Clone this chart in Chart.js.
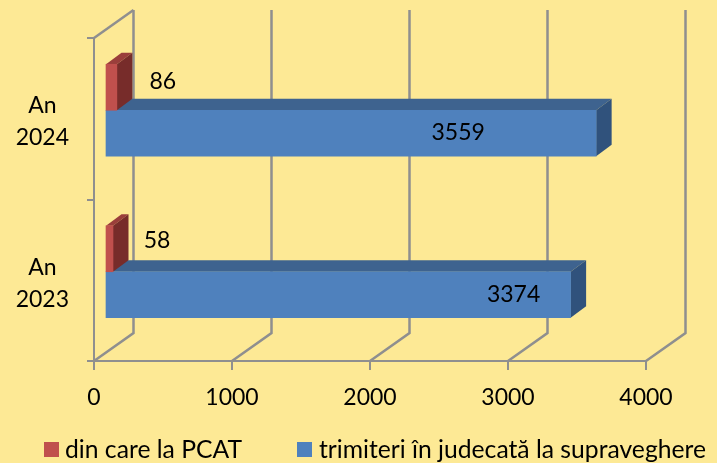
<!DOCTYPE html>
<html>
<head>
<meta charset="utf-8">
<script src="https://cdn.jsdelivr.net/npm/chart.js@4"></script>
<style>
html, body { margin: 0; padding: 0; background: #fde995; }
canvas { display: block; }
</style>
</head>
<body>
<canvas id="c" width="717" height="463"></canvas>
<script>
const years = [["An", "2024"], ["An", "2023"]];
const pcat = [86, 58];
const trimiteri = [3559, 3374];
const seriesNames = ["din care la PCAT", "trimiteri în judecată la supraveghere"];

const C = {bg: "#fde995", grid: "#8f8f8f", text: "#000",
  red: "#c0504d", redSide: "#772c2a", redTop: "#9a3e3b",
  blue: "#4f81bd", blueSide: "#30527c", blueTop: "#3e638f"};
const FONT = "Lato";

// chart box depth, and how far back in the box the bars stand
const WALL = {dx: 39.5, dy: -28}, BAR = {dx: 15.5, dy: -11.5}, SHIFT = {dx: 11, dy: -8.5};
// hand placed data labels in the original, offset from the bar end
const labelOff = [[[46, -6], [-138, -1]], [[44, -8], [-57, 0]]];

const box3d = {
  id: "box3d",
  beforeDatasetsDraw(chart) {
    const {ctx, scales: {x, y}} = chart;
    const top = y.top, bot = y.bottom;
    ctx.save();
    ctx.strokeStyle = C.grid; ctx.lineWidth = 2.5;
    // back wall and floor
    x.ticks.forEach(t => {
      const px = x.getPixelForValue(t.value);
      ctx.beginPath();
      ctx.moveTo(px, bot);
      ctx.lineTo(px + WALL.dx, bot + WALL.dy);
      ctx.lineTo(px + WALL.dx, top + WALL.dy);
      ctx.stroke();
    });
    const x0 = x.getPixelForValue(0);
    ctx.beginPath();
    ctx.moveTo(x0, top);
    ctx.lineTo(x0 + WALL.dx, top + WALL.dy);
    ctx.stroke();
    // top and side faces, blue first because red stands in front of it
    [[1, C.blueTop, C.blueSide], [0, C.redTop, C.redSide]].forEach(([d, cTop, cSide]) => {
      chart.getDatasetMeta(d).data.forEach(b => {
        const l = b.base + SHIFT.dx, r = b.x + SHIFT.dx;
        const t = b.y - b.height / 2 + SHIFT.dy, bt = b.y + b.height / 2 + SHIFT.dy;
        face(ctx, cTop, [[l, t], [r, t], [r + BAR.dx, t + BAR.dy], [l + BAR.dx, t + BAR.dy]]);
        face(ctx, cSide, [[r, t], [r + BAR.dx, t + BAR.dy], [r + BAR.dx, bt + BAR.dy], [r, bt]]);
      });
    });
    ctx.restore();
    ctx.save();
    ctx.translate(SHIFT.dx, SHIFT.dy);
  },
  afterDatasetsDraw(chart) {
    const {ctx} = chart;
    ctx.restore();
    ctx.save();
    ctx.fillStyle = C.text; ctx.font = "23px " + FONT;
    ctx.textAlign = "center"; ctx.textBaseline = "middle";
    [0, 1].forEach(d => {
      chart.getDatasetMeta(d).data.forEach((b, i) => {
        const v = chart.data.datasets[d].data[i], off = labelOff[i][d];
        ctx.fillText(v, b.x + SHIFT.dx + off[0], b.y + SHIFT.dy + off[1]);
      });
    });
    // legend
    ctx.textAlign = "left"; ctx.font = "24.7px " + FONT;
    [[44, 65], [297, 319]].forEach(([sx, tx], d) => {
      ctx.fillStyle = chart.data.datasets[d].backgroundColor;
      ctx.fillRect(sx, 442, 15, 15);
      ctx.fillStyle = C.text;
      ctx.fillText(chart.data.datasets[d].label, tx, 450);
    });
    ctx.restore();
  }
};

function face(ctx, color, pts) {
  ctx.fillStyle = color;
  ctx.beginPath();
  pts.forEach((p, i) => i ? ctx.lineTo(p[0], p[1]) : ctx.moveTo(p[0], p[1]));
  ctx.closePath();
  ctx.fill();
}

Chart.defaults.font.family = FONT;
Chart.defaults.color = C.text;

new Chart(document.getElementById("c"), {
  type: "bar",
  data: {labels: years, datasets: [
    {label: seriesNames[0], data: pcat, backgroundColor: C.red, barThickness: 46, clip: false},
    {label: seriesNames[1], data: trimiteri, backgroundColor: C.blue, barThickness: 46, clip: false}
  ]},
  plugins: [box3d],
  options: {
    indexAxis: "y", responsive: false, animation: false,
    layout: {padding: {top: 38, right: 71, left: 0, bottom: 0}},
    plugins: {legend: {display: false}, tooltip: {enabled: false}},
    scales: {
      x: {min: 0, max: 4000,
        ticks: {stepSize: 1000, maxRotation: 0, padding: 14, font: {size: 23}, callback: v => String(v)},
        grid: {drawOnChartArea: false, color: C.grid, lineWidth: 2, tickLength: 9},
        border: {color: C.grid, width: 2},
        afterFit: s => { s.height = 102; s.paddingLeft = 0; s.paddingRight = 0; }},
      y: {
        ticks: {crossAlign: "center", padding: 18, labelOffset: 3, font: {size: 23, lineHeight: 1.39}},
        grid: {drawOnChartArea: false, color: C.grid, lineWidth: 2, tickLength: 7},
        border: {color: C.grid, width: 2},
        afterFit: s => { s.width = 94; s.paddingTop = 0; s.paddingBottom = 0; }}
    }
  }
});
</script>
</body>
</html>
